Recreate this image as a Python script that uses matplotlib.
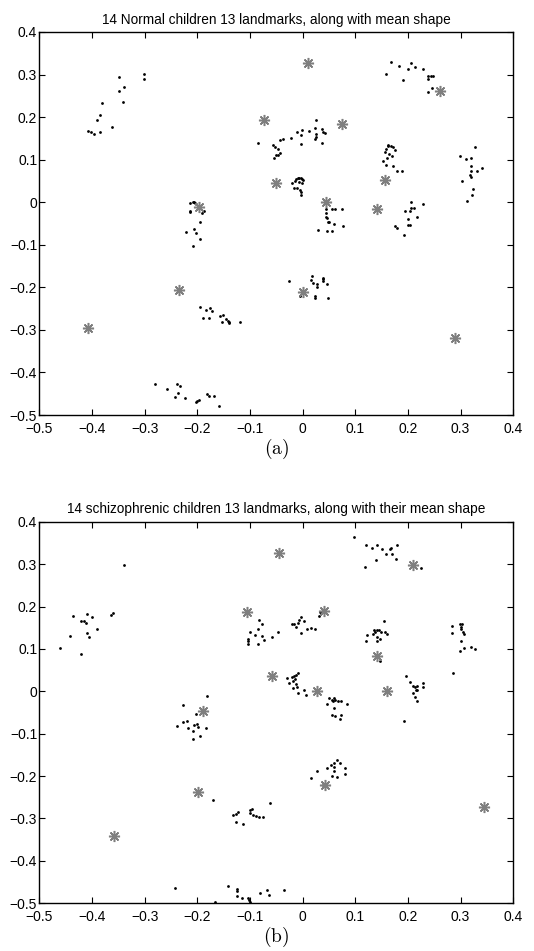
import matplotlib
matplotlib.use('Agg')
import matplotlib.pyplot as plt

plt.rcParams['font.family'] = ['Liberation Sans', 'DejaVu Sans']
plt.rcParams['mathtext.fontset'] = 'cm'

# ---- (a) normal children: landmark points (one line per landmark) ----
normal_x = [
    -0.407, -0.401, -0.396, -0.384, -0.391, -0.385, -0.380, -0.362, -0.349, -0.349, -0.340, -0.341, -0.301, -0.301,
    -0.085, -0.056, -0.052, -0.047, -0.043, -0.051, -0.047, -0.054, -0.043, -0.038, -0.022,
    -0.010, -0.003, -0.003, -0.001, 0.013, 0.023, 0.025, 0.025, 0.025, 0.023, 0.037, 0.039, 0.042, 0.037,
    -0.020, -0.015, -0.013, -0.009, -0.007, -0.004, -0.001, 0.000, -0.007, -0.002, -0.016, -0.011, -0.005, -0.003, -0.003,
    0.159, 0.167, 0.183, 0.191, 0.201, 0.205, 0.213, 0.228, 0.238, 0.244, 0.247, 0.239, 0.238, 0.246,
    0.157, 0.159, 0.162, 0.163, 0.168, 0.171, 0.175, 0.164, 0.169, 0.160, 0.153, 0.159, 0.172, 0.180, 0.189,
    0.298, 0.303, 0.311, 0.320, 0.319, 0.319, 0.320, 0.318, 0.324, 0.322, 0.313, 0.332, 0.340, 0.327,
    -0.214, -0.209, -0.204, -0.202, -0.206, -0.213, -0.213, -0.198, -0.187, -0.191, -0.194, -0.222, -0.207, -0.203, -0.208, -0.194,
    0.044, 0.044, 0.046, 0.049, 0.044, 0.055, 0.062, 0.075, 0.059, 0.077, 0.030, 0.047, 0.055, 0.050,
    0.206, 0.212, 0.203, 0.194, 0.228, 0.218, 0.200, 0.201, 0.204, 0.175, 0.180, 0.192, 0.206,
    -0.025, 0.017, 0.015, 0.020, 0.027, 0.027, 0.039, 0.039, 0.046, -0.005, 0.023, 0.024, 0.049, 0.038,
    -0.194, -0.184, -0.176, -0.173, -0.189, -0.177, -0.157, -0.152, -0.154, -0.146, -0.142, -0.139, -0.119, -0.140,
    -0.280, -0.258, -0.239, -0.232, -0.237, -0.242, -0.223, -0.203, -0.201, -0.197, -0.181, -0.178, -0.168, -0.159,
]
normal_y = [
    0.167, 0.164, 0.161, 0.164, 0.192, 0.204, 0.232, 0.177, 0.294, 0.261, 0.270, 0.236, 0.301, 0.290,
    0.139, 0.135, 0.130, 0.126, 0.115, 0.110, 0.110, 0.103, 0.146, 0.149, 0.151,
    0.166, 0.157, 0.136, 0.170, 0.168, 0.175, 0.192, 0.160, 0.154, 0.148, 0.171, 0.164, 0.162, 0.138,
    0.046, 0.050, 0.055, 0.057, 0.056, 0.058, 0.055, 0.052, 0.048, 0.046, 0.034, 0.033, 0.028, 0.023, 0.017,
    0.301, 0.330, 0.319, 0.288, 0.312, 0.326, 0.317, 0.314, 0.297, 0.297, 0.297, 0.289, 0.259, 0.268,
    0.119, 0.124, 0.132, 0.134, 0.133, 0.130, 0.123, 0.113, 0.109, 0.104, 0.096, 0.088, 0.084, 0.074, 0.074,
    0.109, 0.050, 0.102, 0.103, 0.086, 0.074, 0.059, 0.063, 0.031, 0.017, 0.002, 0.074, 0.080, 0.130,
    -0.003, 0.000, -0.002, -0.005, 0.001, -0.021, -0.024, -0.010, -0.021, -0.026, -0.047, -0.069, -0.062, -0.073, -0.102, -0.087,
    -0.016, -0.025, -0.038, -0.047, -0.035, -0.016, -0.016, -0.016, -0.052, -0.057, -0.065, -0.068, -0.068, -0.047,
    0.001, -0.013, -0.020, -0.020, -0.005, -0.035, -0.039, -0.053, -0.053, -0.056, -0.060, -0.076, -0.013,
    -0.185, -0.173, -0.182, -0.191, -0.200, -0.192, -0.177, -0.185, -0.192, -0.221, -0.221, -0.225, -0.224, -0.180,
    -0.247, -0.254, -0.249, -0.256, -0.273, -0.271, -0.267, -0.266, -0.281, -0.275, -0.280, -0.284, -0.282, -0.282,
    -0.426, -0.438, -0.428, -0.433, -0.448, -0.457, -0.459, -0.470, -0.466, -0.465, -0.451, -0.456, -0.455, -0.478,
]
normal_mean_x = [0.011, -0.073, 0.074, 0.261, -0.050, 0.157, 0.044, 0.141, -0.197, -0.235, -0.408, 0.000, 0.289]
normal_mean_y = [0.328, 0.193, 0.184, 0.261, 0.044, 0.053, 0.001, -0.016, -0.012, -0.207, -0.295, -0.210, -0.320]

# ---- (b) schizophrenic children ----
schizo_x = [
    -0.461, -0.441, -0.436, -0.420, -0.416, -0.411, -0.409, -0.399, -0.406, -0.409, -0.391, -0.364, -0.361, -0.339, -0.420,
    -0.104, -0.103, -0.099, -0.091, -0.084, -0.082, -0.077, -0.077, -0.073, -0.084, -0.058, -0.047, -0.104,
    -0.020, -0.016, -0.012, -0.009, -0.007, -0.003, -0.003, 0.003, 0.009, 0.023, 0.032, 0.033, 0.015,
    0.098, 0.118, 0.121, 0.132, 0.139, 0.142, 0.151, 0.158, 0.165, 0.168, 0.169, 0.177, 0.180, 0.225,
    0.121, 0.123, 0.133, 0.135, 0.137, 0.142, 0.142, 0.145, 0.148, 0.155, 0.156, 0.161, 0.147, 0.141, 0.146,
    0.284, 0.284, 0.299, 0.301, 0.301, 0.303, 0.305, 0.307, 0.301, 0.299, 0.307, 0.320, 0.327, 0.285,
    -0.029, -0.025, -0.020, -0.018, -0.014, -0.012, -0.009, -0.013, -0.011, -0.008, -0.018, 0.003, 0.006, -0.016,
    0.051, 0.056, 0.060, 0.062, 0.058, 0.072, 0.046, 0.060, 0.085, 0.055, 0.061, 0.071, 0.073, 0.067,
    0.197, 0.203, 0.210, 0.213, 0.218, 0.229, 0.229, 0.209, 0.216, 0.218, 0.213, 0.218, 0.193,
    -0.228, -0.182, -0.239, -0.228, -0.219, -0.217, -0.209, -0.206, -0.200, -0.202, -0.199, -0.208, -0.195, -0.184,
    0.015, 0.027, 0.046, 0.053, 0.059, 0.066, 0.071, 0.060, 0.060, 0.056, 0.066, 0.080, 0.080, 0.038,
    -0.170, -0.132, -0.127, -0.126, -0.123, -0.113, -0.100, -0.096, -0.099, -0.094, -0.089, -0.082, -0.075, -0.061,
    -0.242, -0.166, -0.141, -0.125, -0.124, -0.124, -0.115, -0.103, -0.101, -0.100, -0.081, -0.068, -0.064, -0.035,
]
schizo_y = [
    0.103, 0.130, 0.178, 0.166, 0.165, 0.162, 0.183, 0.176, 0.129, 0.137, 0.148, 0.181, 0.184, 0.297, 0.088,
    0.124, 0.112, 0.141, 0.133, 0.147, 0.169, 0.159, 0.130, 0.121, 0.112, 0.128, 0.140, 0.118,
    0.159, 0.158, 0.151, 0.162, 0.168, 0.175, 0.138, 0.166, 0.148, 0.148, 0.178, 0.186, 0.150,
    0.364, 0.294, 0.345, 0.338, 0.310, 0.345, 0.336, 0.323, 0.335, 0.338, 0.323, 0.313, 0.344, 0.291,
    0.118, 0.133, 0.135, 0.145, 0.139, 0.129, 0.144, 0.144, 0.141, 0.166, 0.141, 0.136, 0.071, 0.118, 0.123,
    0.153, 0.138, 0.159, 0.152, 0.148, 0.159, 0.141, 0.135, 0.118, 0.094, 0.101, 0.104, 0.100, 0.042,
    0.032, 0.020, 0.033, 0.024, 0.028, 0.039, 0.042, 0.017, 0.009, -0.003, 0.008, 0.004, -0.009, 0.035,
    -0.015, -0.020, -0.017, -0.021, -0.024, -0.022, -0.030, -0.040, -0.030, -0.057, -0.058, -0.065, -0.055, -0.024,
    0.036, 0.023, 0.013, 0.011, 0.013, 0.020, 0.009, -0.004, 0.002, 0.004, -0.013, -0.024, -0.071,
    -0.033, -0.010, -0.081, -0.073, -0.069, -0.086, -0.094, -0.080, -0.078, -0.053, -0.085, -0.113, -0.106, -0.087,
    -0.205, -0.187, -0.181, -0.173, -0.168, -0.161, -0.168, -0.178, -0.188, -0.199, -0.201, -0.181, -0.195, -0.222,
    -0.256, -0.291, -0.308, -0.289, -0.285, -0.312, -0.281, -0.278, -0.286, -0.291, -0.295, -0.297, -0.297, -0.263,
    -0.463, -0.497, -0.460, -0.466, -0.471, -0.483, -0.488, -0.488, -0.493, -0.497, -0.475, -0.469, -0.480, -0.469,
]
schizo_mean_x = [-0.044, -0.106, 0.041, 0.209, 0.141, -0.058, 0.027, 0.160, -0.189, -0.198, 0.043, -0.358, 0.345]
schizo_mean_y = [0.326, 0.186, 0.190, 0.299, 0.083, 0.036, 0.000, 0.000, -0.047, -0.237, -0.220, -0.342, -0.274]

titles = ['14 Normal children 13 landmarks, along with mean shape',
          '14 schizophrenic children 13 landmarks, along with their mean shape']
captions = ['(a)', '(b)']
ticks = [-0.5, -0.4, -0.3, -0.2, -0.1, 0, 0.1, 0.2, 0.3, 0.4]
tick_labels = ['\u22120.5', '\u22120.4', '\u22120.3', '\u22120.2', '\u22120.1', '0', '0.1', '0.2', '0.3', '0.4']

fig = plt.figure(figsize=(5.34, 9.51), dpi=100)
ax_a = fig.add_axes([0.0736, 0.5636, 0.8876, 0.4028])
ax_b = fig.add_axes([0.0736, 0.0502, 0.8876, 0.4012])

panels = [(ax_a, normal_x, normal_y, normal_mean_x, normal_mean_y),
          (ax_b, schizo_x, schizo_y, schizo_mean_x, schizo_mean_y)]

for i, (ax, px, py, mx, my) in enumerate(panels):
    ax.plot(px, py, linestyle='none', marker='o', markersize=2.0, color='black', mew=0)
    ax.plot(mx, my, linestyle='none', marker=(8, 2, 0), markersize=8, color='#7f7f7f', mew=1.1)
    ax.set_xlim(-0.5, 0.4)
    ax.set_ylim(-0.5, 0.4)
    ax.set_xticks(ticks)
    ax.set_yticks(ticks)
    ax.set_xticklabels(tick_labels)
    ax.set_yticklabels(tick_labels)
    ax.tick_params(direction='in', length=4, width=0.8, top=True, right=True,
                   labelsize=10)
    ax.tick_params(axis='x', pad=5)
    ax.tick_params(axis='y', pad=1.5)
    for s in ax.spines.values():
        s.set_linewidth(1.0)
    ax.set_title(titles[i], fontsize=9.8, pad=6)
    ax.text(0.5, -0.088, r'$\mathrm{' + captions[i] + '}$', transform=ax.transAxes,
            ha='center', va='center', fontsize=14)

fig.savefig('out.png', dpi=100)
